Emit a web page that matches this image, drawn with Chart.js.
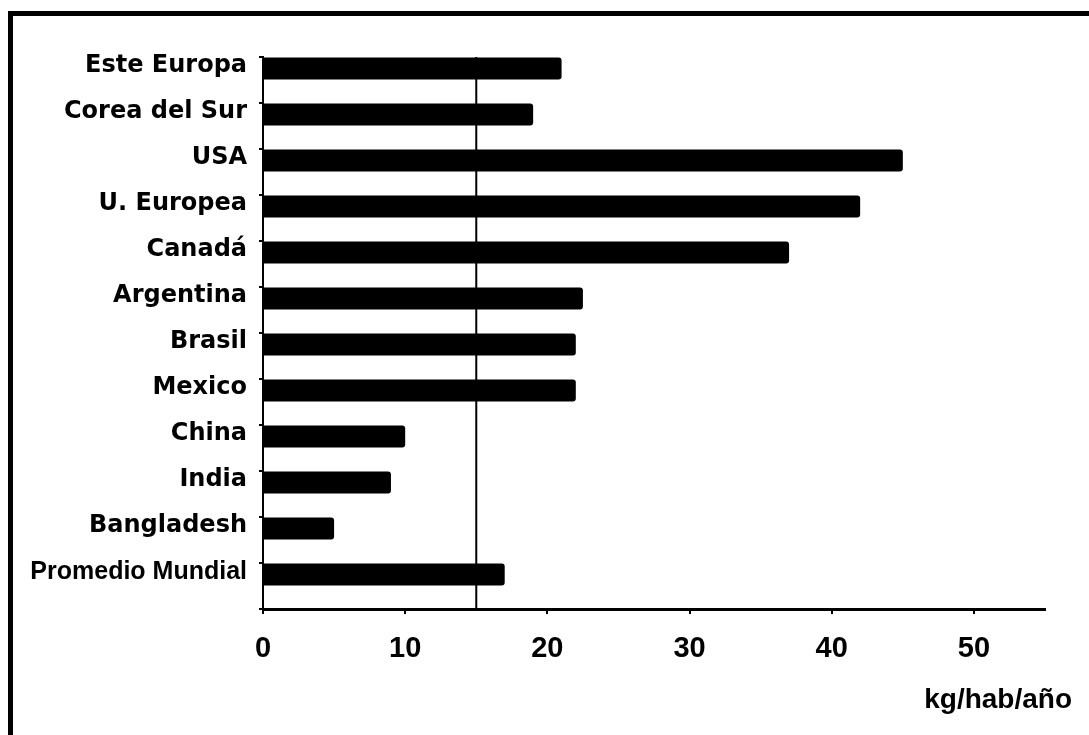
<!DOCTYPE html>
<html>
<head>
<meta charset="utf-8">
<script src="https://cdn.jsdelivr.net/npm/chart.js@4"></script>
<style>
  html, body { margin: 0; padding: 0; background: #fff; }
  body { width: 1089px; height: 735px; overflow: hidden; position: relative; }
  #marco {
    position: absolute; left: 8px; top: 11px; width: 1200px; height: 900px;
    border-left: 5px solid #000; border-top: 5px solid #000;
  }
  #grafico { position: absolute; left: 0; top: 0; }
</style>
</head>
<body>
<div id="marco"></div>
<canvas id="grafico" width="1089" height="735"></canvas>
<script>
// Consumo por habitante (kg/hab/año)
const categorias = [
  'Este Europa', 'Corea del Sur', 'USA', 'U. Europea', 'Canadá', 'Argentina',
  'Brasil', 'Mexico', 'China', 'India', 'Bangladesh', 'Promedio Mundial'
];
const consumo = [21, 19, 45, 42, 37, 22.5, 22, 22, 10, 9, 5, 17];
const valorReferencia = 15;
const ejeMin = 0;
const ejeMax = 55;
const ejePaso = 10;
const unidad = 'kg/hab/año';

// Vertical reference line, drawn behind the bars
const lineaReferencia = {
  id: 'lineaReferencia',
  beforeDatasetsDraw(chart) {
    const { ctx, chartArea, scales } = chart;
    const px = scales.x.getPixelForValue(valorReferencia);
    ctx.save();
    ctx.strokeStyle = '#000';
    ctx.lineWidth = 2;
    ctx.beginPath();
    ctx.moveTo(px, chartArea.top);
    ctx.lineTo(px, chartArea.bottom);
    ctx.stroke();
    ctx.restore();
  }
};

// Unit caption under the right end of the value axis
const etiquetaUnidad = {
  id: 'etiquetaUnidad',
  afterDraw(chart) {
    const { ctx, scales } = chart;
    ctx.save();
    ctx.fillStyle = '#000';
    ctx.font = 'bold 28px "Liberation Sans", Arial, sans-serif';
    ctx.textAlign = 'right';
    ctx.textBaseline = 'middle';
    ctx.fillText(unidad, scales.x.right + 27, scales.x.top + 91);
    ctx.restore();
  }
};

new Chart(document.getElementById('grafico'), {
  type: 'bar',
  data: {
    labels: categorias,
    datasets: [
      {
        data: consumo,
        backgroundColor: '#000',
        borderRadius: 3,
        borderSkipped: 'start',
        barPercentage: 0.96,
        categoryPercentage: 1
      },
      {
        // empty slot: keeps each bar in the upper half of its row
        data: categorias.map(() => null),
        barPercentage: 0.96,
        categoryPercentage: 1
      }
    ]
  },
  options: {
    indexAxis: 'y',
    responsive: false,
    animation: false,
    layout: { padding: { top: 57, right: 44, left: 0, bottom: 0 } },
    plugins: { legend: { display: false }, tooltip: { enabled: false } },
    scales: {
      x: {
        min: ejeMin,
        max: ejeMax,
        ticks: {
          stepSize: ejePaso,
          includeBounds: false,
          color: '#000',
          font: { family: '"Liberation Sans", Arial, sans-serif', weight: 'bold', size: 29 },
          padding: 18
        },
        grid: { drawOnChartArea: false, tickLength: 5, color: '#000', lineWidth: 2 },
        border: { color: '#000', width: 3 },
        afterFit(scale) { scale.height = 126; }
      },
      y: {
        ticks: {
          color: '#000',
          font: (c) => c.index === categorias.length - 1
            ? { family: '"Liberation Sans", Arial, sans-serif', weight: 'bold', size: 25 }
            : { family: '"DejaVu Sans", sans-serif', weight: 'bold', size: 24 },
          padding: 12,
          labelOffset: -14
        },
        grid: { drawOnChartArea: false, tickLength: 4, color: '#000', lineWidth: 2, offset: true },
        border: { color: '#000', width: 2 },
        afterFit(scale) { scale.width = 263; }
      }
    }
  },
  plugins: [lineaReferencia, etiquetaUnidad]
});
</script>
</body>
</html>
